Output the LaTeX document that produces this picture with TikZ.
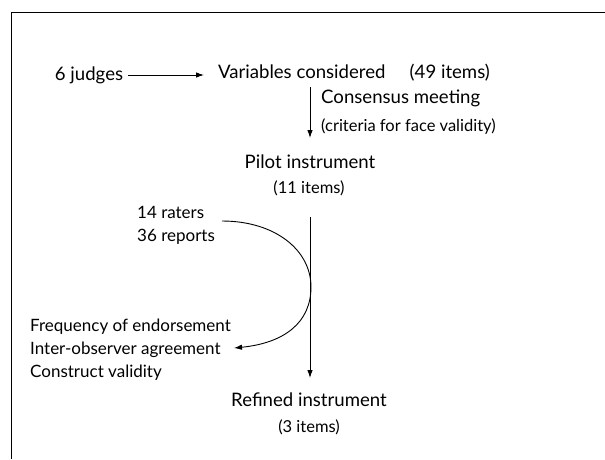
\documentclass[tikz,border=0pt]{standalone}
\usepackage{fontspec}
\setmainfont{Lato}
\usetikzlibrary{arrows.meta}
\begin{document}
\begin{tikzpicture}[x=1pt,y=-1pt,
  big/.style={font=\fontsize{18.6}{22}\selectfont, inner sep=0pt},
  mid/.style={font=\fontsize{17}{20}\selectfont, inner sep=0pt},
  small/.style={font=\fontsize{16.5}{19}\selectfont, inner sep=0pt},
  arr/.style={-{Latex[length=8pt,width=5.5pt]}, line width=0.9pt},
  frame/.style={line width=1pt}]
\useasboundingbox (0,0) rectangle (605,459);
\draw[frame] (11,459) -- (11,12.7) -- (605,12.7);
\node[big] (judges) at (89,75) {6 judges};
\node[big] (vars) at (354,73) {Variables considered\hspace{1.3em}(49 items)};
\node[big,anchor=west] (cons) at (321,98) {Consensus meeting};
\node[small,anchor=west] (crit) at (321,127) {(criteria for face validity)};
\node[big] (pilot) at (310,162) {Pilot instrument};
\node[small] (pilot2) at (309,188) {(11 items)};
\node[mid,anchor=west] (raters) at (137,212) {14 raters};
\node[mid,anchor=west] (reports) at (137,237) {36 reports};
\node[mid,anchor=west] (freq) at (30,327) {Frequency of endorsement};
\node[mid,anchor=west] (inter) at (30,350) {Inter-observer agreement};
\node[mid,anchor=west] (constr) at (30,373) {Construct validity};
\node[big] (refined) at (309,400) {Refined instrument};
\node[small] (refined2) at (309,427) {(3 items)};
\coordinate (a1) at (128,75);
\coordinate (a2) at (204,75);
\coordinate (b1) at (310,87);
\coordinate (b2) at (310,138);
\coordinate (c1) at (310,217);
\coordinate (c2) at (310,378);
\coordinate (d1) at (222,221);
\coordinate (d2) at (311,287);
\coordinate (d3) at (234,348);
\draw[arr] (a1) -- (a2);
\draw[arr] (b1) -- (b2);
\draw[arr] (c1) -- (c2);
\draw[arr] (d1) .. controls (275,221) and (311,250) .. (d2) .. controls (311,322) and (285,343) .. (d3);
\end{tikzpicture}
\end{document}
